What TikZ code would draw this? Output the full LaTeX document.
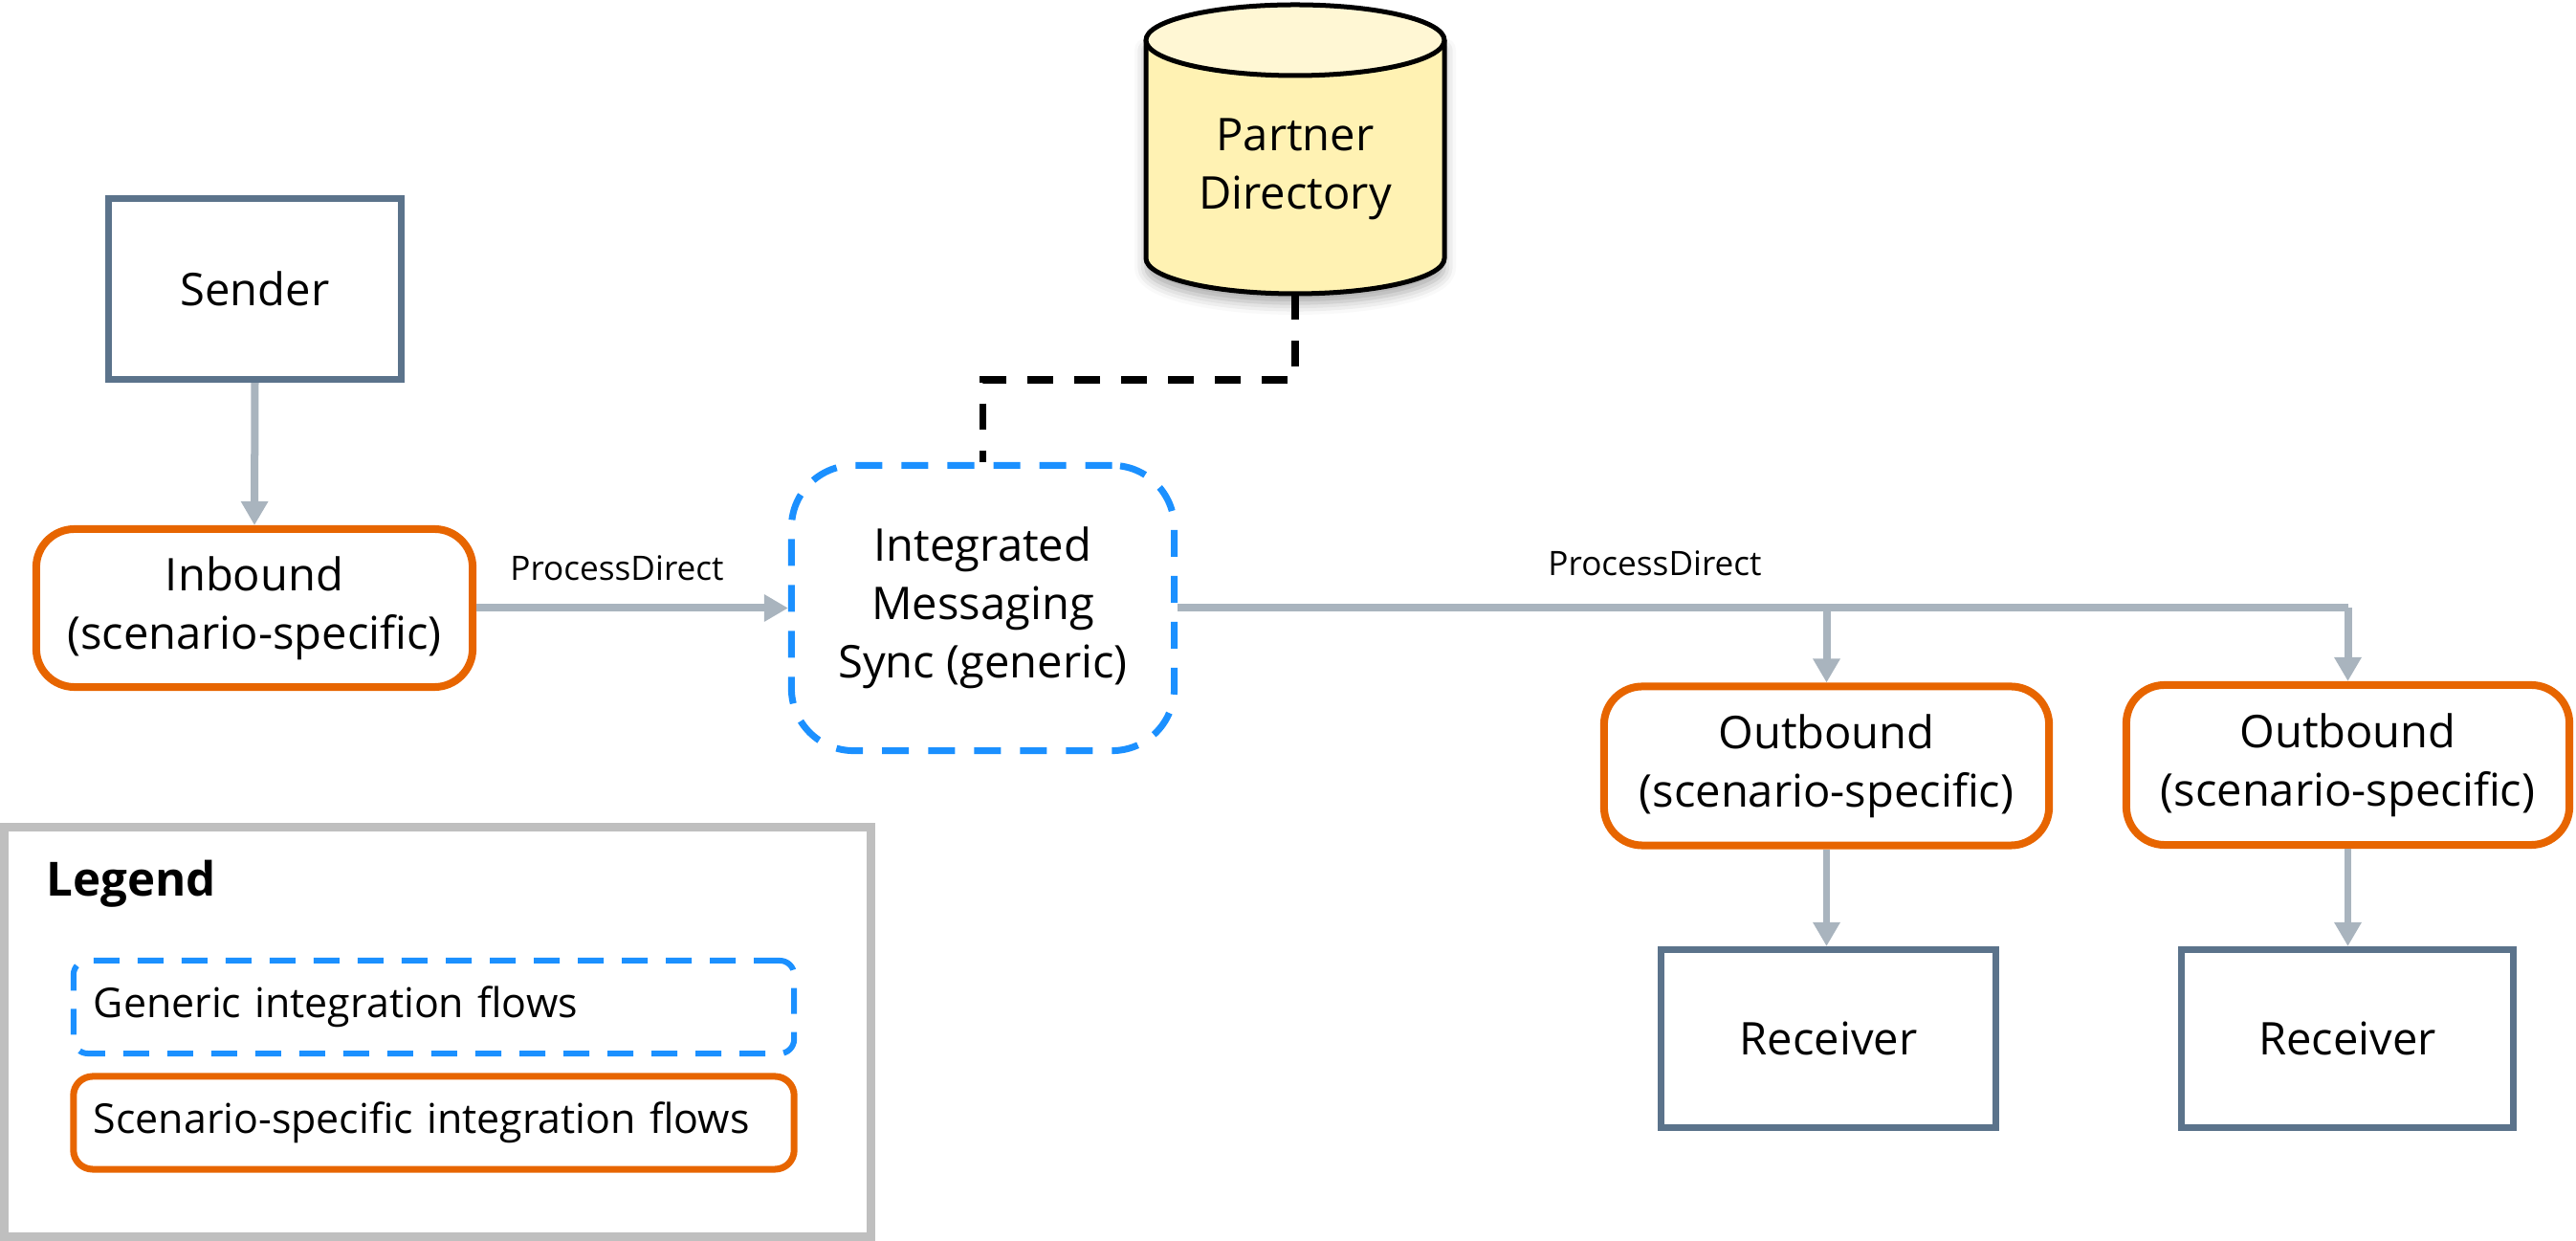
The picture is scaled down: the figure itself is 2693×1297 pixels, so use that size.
\documentclass[tikz,border=0pt]{standalone}
\usepackage{fontspec}
\setmainfont{Open Sans}
\usetikzlibrary{arrows.meta,shadows.blur}
\definecolor{slate}{HTML}{5B738B}
\definecolor{sapor}{HTML}{E76500}
\definecolor{sapblue}{HTML}{1B90FF}
\definecolor{arrowgray}{HTML}{A9B4BE}
\definecolor{leggray}{HTML}{BFBFBF}
\definecolor{cylbody}{HTML}{FFF2B3}
\definecolor{cyltop}{HTML}{FFF7D4}
\begin{document}
\begin{tikzpicture}[x=0.01cm,y=0.01cm,
  mainfont/.style={font=\fontsize{13.4pt}{17.4pt}\selectfont},
  sysbox/.style={draw=slate, line width=0.07cm, fill=white, mainfont, align=center, inner sep=0pt},
  specbox/.style={draw=sapor, line width=0.08cm, fill=white, rounded corners=0.4cm, mainfont, align=center, inner sep=0pt},
  genbox/.style={draw=sapblue, line width=0.07cm, dash pattern=on 0.28cm off 0.2cm, rounded corners=0.65cm, mainfont, align=center, inner sep=0pt},
  arr/.style={draw=arrowgray, line width=0.08cm, -{Triangle[length=0.25cm,width=0.27cm]}},
  plainline/.style={draw=arrowgray, line width=0.08cm},
  pdline/.style={draw=black, line width=0.075cm, dash pattern=on 0.27cm off 0.22cm},
  lbl/.style={font=\fontsize{10pt}{12pt}\selectfont, inner sep=0pt},
  legtext/.style={font=\fontsize{12.2pt}{15pt}\selectfont, text width=7.11cm, align=left, inner xsep=0.21cm, inner ysep=0pt, minimum height=0.97cm}
]
\useasboundingbox (0,0) rectangle (2693,1297);

% Partner Directory cylinder
\fill[cylbody, blur shadow={shadow xshift=0cm, shadow yshift=-0.1cm, shadow blur radius=0.12cm, shadow opacity=35}]
  (1198,1255) -- (1198,1027) arc[start angle=180,end angle=360,x radius=156,y radius=37] -- (1510,1255) -- cycle;
\draw[line width=0.05cm] (1198,1255) -- (1198,1027) arc[start angle=180,end angle=360,x radius=156,y radius=37] -- (1510,1255);
\filldraw[fill=cyltop, line width=0.05cm] (1354,1255) ellipse[x radius=156, y radius=37];
\node[mainfont, align=center, inner sep=0pt] (pdtext) at (1354,1120) {Partner\\Directory};
\coordinate (pdbot) at (1354,990);

% main nodes
\node[sysbox, minimum width=3.06cm, minimum height=1.89cm] (snd) at (266.5,995) {Sender};
\node[specbox, minimum width=4.56cm, minimum height=1.65cm] (inb) at (266,661.5) {Inbound\\(scenario-specific)};
\node[genbox, minimum width=4.00cm, minimum height=2.98cm] (ims) at (1027.5,661.5) {Integrated\\Messaging\\Sync (generic)};
\node[specbox, minimum width=4.65cm, minimum height=1.66cm] (out1) at (1909.5,496.5) {Outbound\\(scenario-specific)};
\node[specbox, minimum width=4.63cm, minimum height=1.67cm] (out2) at (2454.5,497.5) {Outbound\\(scenario-specific)};
\node[sysbox, minimum width=3.50cm, minimum height=1.86cm] (rec1) at (1911.5,211.5) {Receiver};
\node[sysbox, minimum width=3.47cm, minimum height=1.86cm] (rec2) at (2454,211.5) {Receiver};

% labels
\node[lbl] (pd1) at (645,703) {ProcessDirect};
\node[lbl] (pd2) at (1730,708) {ProcessDirect};

% connectors
\draw[arr] (snd.south) -- (inb.north);
\draw[arr] (inb.east) -- (ims.west);
\draw[pdline] (pdbot) -- ++(0,-90) -| (ims.north);
\draw[plainline] (ims.east) -- (out2.north |- ims.east);
\draw[arr] (out1.north |- ims.east) -- (out1.north);
\draw[arr] (out2.north |- ims.east) -- (out2.north);
\draw[arr, line width=0.07cm] (out1.south) -- (out1.south |- rec1.north);
\draw[arr, line width=0.07cm] (out2.south) -- (out2.south |- rec2.north);

% legend
\node[draw=leggray, line width=0.09cm, minimum width=9.06cm, minimum height=4.28cm, inner sep=0pt] (leg) at (457.5,218.5) {};
\node[font=\fontsize{14pt}{16pt}\selectfont\bfseries, anchor=west, inner sep=0pt] (legtitle) at (48,373) {Legend};
\node[legtext, draw=sapblue, line width=0.06cm, dash pattern=on 0.27cm off 0.19cm, rounded corners=0.15cm] (leggen) at (453.5,244.5) {Generic integration flows};
\node[legtext, draw=sapor, line width=0.07cm, rounded corners=0.2cm] (legspec) at (453.5,123.5) {Scenario-specific integration flows};
\end{tikzpicture}
\end{document}
